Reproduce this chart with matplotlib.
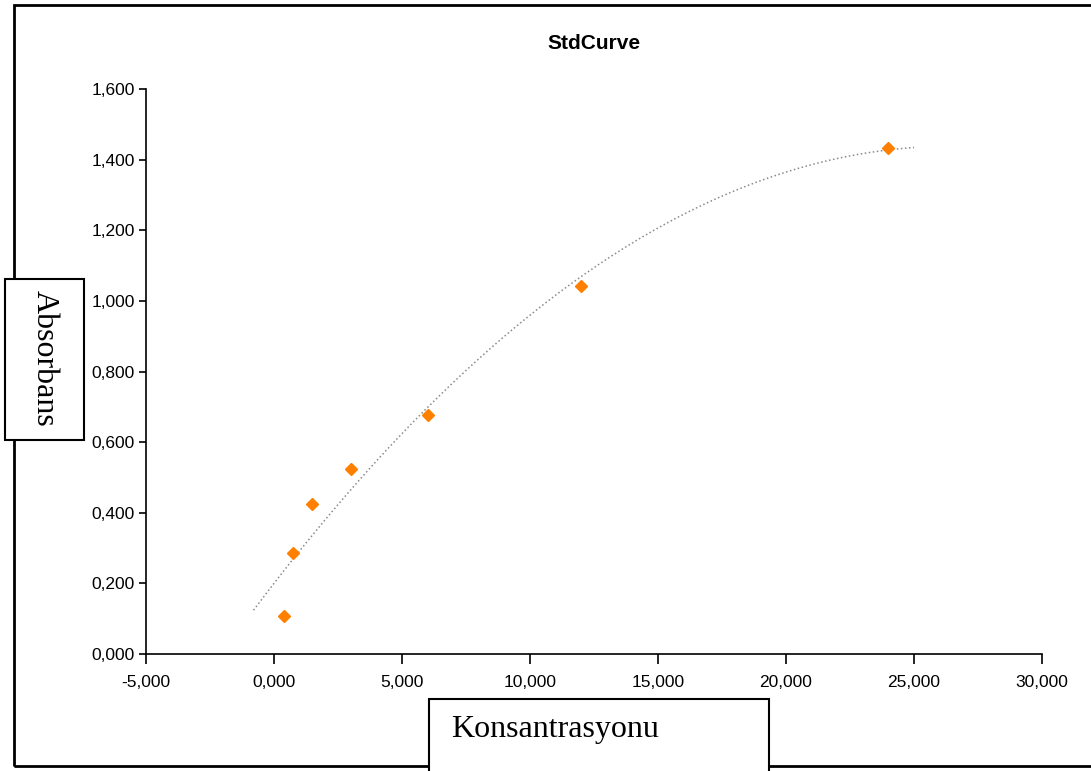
import numpy as np
import matplotlib
matplotlib.use('Agg')
from matplotlib import pyplot as plt
from matplotlib.patches import Rectangle
from matplotlib.ticker import FuncFormatter, MultipleLocator

# standard curve data
konsantrasyon = [0.375, 0.75, 1.5, 3.0, 6.0, 12.0, 24.0]
absorbans = [0.109, 0.287, 0.425, 0.525, 0.678, 1.043, 1.434]

# polynomial trendline (order 2), drawn a bit past the data like excel does
coef = np.polyfit(konsantrasyon, absorbans, 2)
xfit = np.linspace(-0.8, 25.0, 200)
yfit = np.polyval(coef, xfit)

W, H = 1091, 771
fig = plt.figure(figsize=(W/100, H/100), dpi=100)
ax = fig.add_axes([146/W, 1-654/H, (1042-146)/W, (654-89)/H])

ax.plot(xfit, yfit, ls=':', lw=1.1, color='#8a8a8a')
ax.plot(konsantrasyon, absorbans, ls='none', marker='D', ms=6, color='#ff8000', mec='#ff8000')

ax.set_xlim(-5, 30)
ax.set_ylim(0, 1.6)
ax.xaxis.set_major_locator(MultipleLocator(5))
ax.yaxis.set_major_locator(MultipleLocator(0.2))
fmt = FuncFormatter(lambda v, p: f'{v:.3f}'.replace('.', ','))
ax.xaxis.set_major_formatter(fmt)
ax.yaxis.set_major_formatter(fmt)

for s in ['top', 'right']:
    ax.spines[s].set_visible(False)
for s in ['left', 'bottom']:
    ax.spines[s].set_linewidth(1.2)
ax.tick_params(axis='x', direction='out', length=7, width=1.2, pad=8, labelsize=12.5)
ax.tick_params(axis='y', direction='out', length=5, width=1.2, pad=3, labelsize=12.5)
for lab in ax.get_xticklabels() + ax.get_yticklabels():
    lab.set_family('Liberation Sans')

ax.set_title('StdCurve', fontsize=15, fontweight='bold', family='Liberation Sans', pad=29)

# outer chart border
fig.patches.append(Rectangle((14/W, 1-766/H), 1.2, (766-5)/H, transform=fig.transFigure,
                             fill=False, lw=2, ec='black'))

# axis title boxes
fig.patches.append(Rectangle((5/W, 1-440/H), 79/W, 161/H, transform=fig.transFigure,
                             facecolor='white', ec='black', lw=1.5, zorder=3))
fig.text(44/W, 1-358/H, 'Absorbans', rotation=-90, ha='center', va='center',
         fontsize=23, family='Liberation Serif', zorder=4)

fig.patches.append(Rectangle((429/W, 1-790/H), 340/W, 91/H, transform=fig.transFigure,
                             facecolor='white', ec='black', lw=1.5, zorder=3))
fig.text(451/W, 1-729/H, 'Konsantrasyonu', ha='left', va='center',
         fontsize=23, family='Liberation Serif', zorder=4)

plt.savefig('out.png', dpi=100)
